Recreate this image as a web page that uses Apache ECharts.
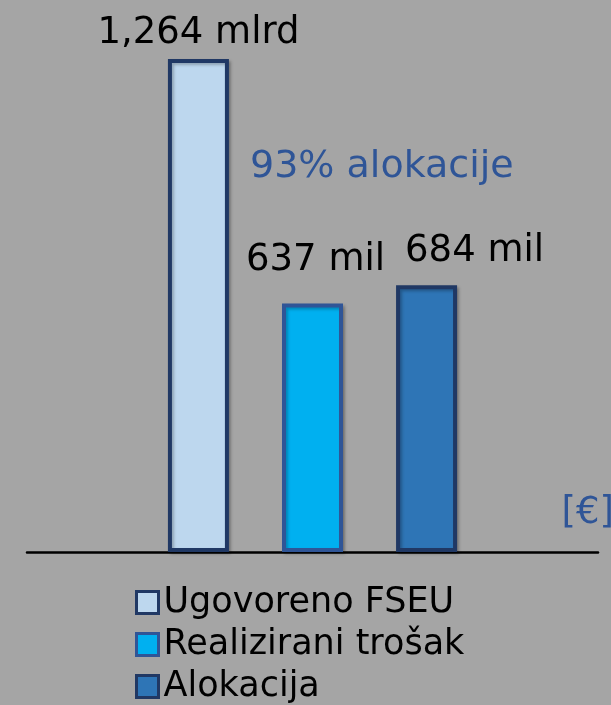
<!DOCTYPE html>
<html>
<head>
<meta charset="utf-8">
<script src="https://cdn.jsdelivr.net/npm/echarts@6/dist/echarts.min.js"></script>
<style>
html,body{margin:0;padding:0;background:#a5a5a5;}
#main{width:611px;height:705px;}
</style>
</head>
<body>
<div id="main"></div>
<script>
var seriesNames = ['Ugovoreno FSEU', 'Realizirani trošak', 'Alokacija'];
var values = [1264, 637, 684];
var valueLabels = ['1,264 mlrd', '637 mil', '684 mil'];
var fills = ['#bdd7ee', '#00b0f0', '#2e75b6'];
var borders = ['#203864', '#2f5597', '#203864'];
var labelOffsets = [[0, 0], [3, -18], [48, -8]];
var noteText = '93% alokacije';
var unitText = '[€]';

var myChart = echarts.init(document.getElementById('main'));
var font = 'DejaVu Sans, Verdana, sans-serif';

var series = [];
for (var i = 0; i < values.length; i++) {
    series.push({
        name: seriesNames[i],
        type: 'bar',
        data: [values[i]],
        barWidth: 61,
        barGap: '87%',
        itemStyle: {
            color: fills[i],
            borderColor: borders[i],
            borderWidth: 4,
            shadowColor: 'rgba(0,0,0,0.25)',
            shadowBlur: 3,
            shadowOffsetX: 2,
            shadowOffsetY: 2
        },
        label: {
            show: true,
            position: 'top',
            distance: 7,
            offset: labelOffsets[i],
            formatter: valueLabels[i],
            color: '#000',
            fontSize: 37,
            fontFamily: font
        }
    });
}

var option = {
    backgroundColor: '#a5a5a5',
    animation: false,
    grid: {left: 27, right: 13, top: 45, bottom: 153},
    xAxis: {
        type: 'category',
        data: [''],
        axisLine: {lineStyle: {color: '#000', width: 2.5}},
        axisTick: {show: false},
        axisLabel: {show: false}
    },
    yAxis: {
        type: 'value',
        min: 0,
        max: 1300,
        show: false
    },
    legend: {
        orient: 'vertical',
        left: 135,
        top: 585,
        height: 130,
        padding: 0,
        itemWidth: 22,
        itemHeight: 22,
        itemGap: 7,
        icon: 'rect',
        itemStyle: {borderWidth: 3, shadowBlur: 0, shadowOffsetX: 0, shadowOffsetY: 0},
        textStyle: {color: '#000', fontSize: 35, fontFamily: font},
        data: seriesNames
    },
    graphic: [
        {type: 'text', left: 250, top: 148, style: {text: noteText, fill: '#2f5597', fontSize: 38, fontFamily: font}},
        {type: 'text', right: -3, top: 495, style: {text: unitText, fill: '#2f5597', fontSize: 37, fontFamily: font}}
    ],
    series: series
};
myChart.setOption(option);
</script>
</body>
</html>
